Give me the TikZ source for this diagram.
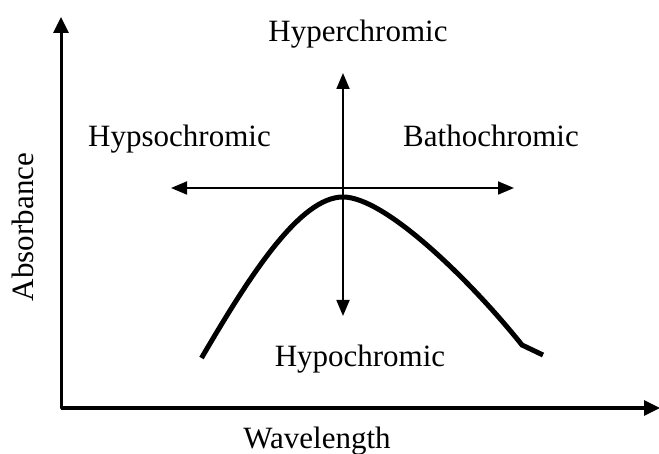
\documentclass[tikz,border=0pt]{standalone}
\usepackage{fontspec}
\setmainfont{Liberation Serif}
\usetikzlibrary{arrows.meta}
\begin{document}
\begin{tikzpicture}[x=1pt,y=-1pt,
  lbl/.style={font=\fontsize{31}{36}\selectfont, inner sep=0pt, anchor=base},
  axisline/.style={line width=3pt, -{Triangle[length=16pt,width=15pt]}},
  shiftarrow/.style={line width=1.8pt, -{Triangle[length=16pt,width=13pt]}},
  band/.style={line width=5pt}]
\useasboundingbox (0,0) rectangle (659,454);
\coordinate (O) at (61,408);
\coordinate (ytop) at (61,17);
\coordinate (xend) at (660,408);
\draw[axisline, line cap=round] (O) -- (ytop);
\draw[axisline] (O) -- (xend);
\coordinate (c) at (343,188);
\coordinate (up) at (343,73);
\coordinate (down) at (343,316);
\coordinate (left) at (171,188);
\coordinate (right) at (514,188);
\draw[shiftarrow] (c) -- (up);
\draw[shiftarrow] (c) -- (down);
\draw[shiftarrow] (c) -- (left);
\draw[shiftarrow] (c) -- (right);
\coordinate (cs) at (201.5,358);
\coordinate (cp) at (343,197);
\coordinate (ck) at (522,345);
\coordinate (ce) at (543,355);
\draw[band] (cs) .. controls (250,275) and (300,197) .. (cp)
  .. controls (385,197) and (470,280) .. (ck) -- (ce);
\node[lbl] (hyper) at (358,42) {Hyperchromic};
\node[lbl] (hypso) at (179.5,147) {Hypsochromic};
\node[lbl] (batho) at (491,147) {Bathochromic};
\node[lbl] (hypo) at (360,367) {Hypochromic};
\node[lbl] (wave) at (317,448) {Wavelength};
\node[lbl, rotate=90] (abs) at (33,227) {Absorbance};
\end{tikzpicture}
\end{document}
